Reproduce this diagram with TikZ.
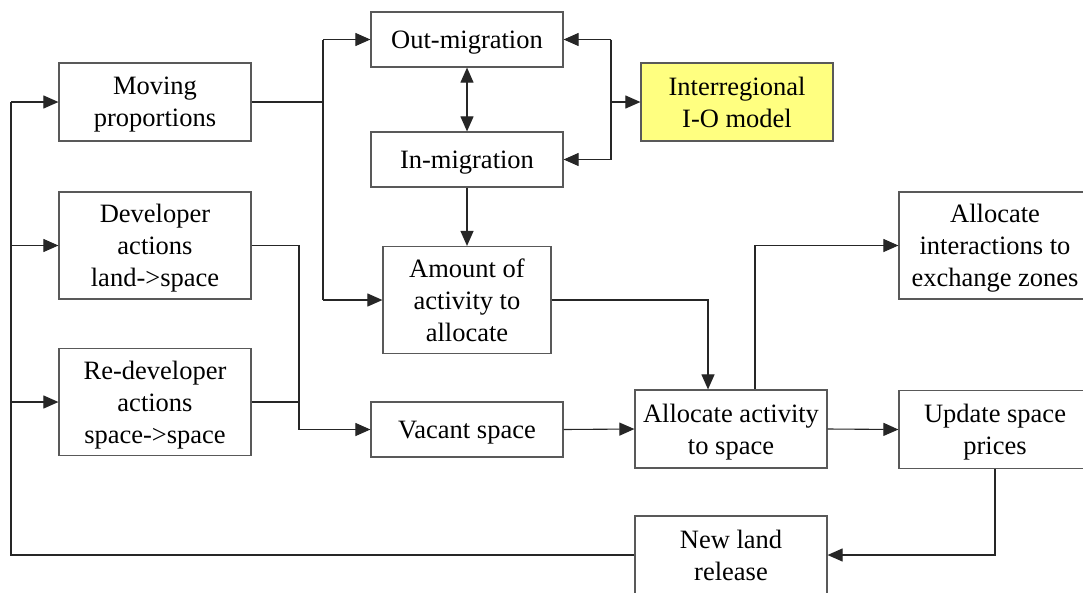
\documentclass[tikz,border=0pt]{standalone}
\usepackage{fontspec}
\setmainfont{Liberation Serif}
\usetikzlibrary{arrows.meta}
\definecolor{ioyellow}{RGB}{255,255,128}
\begin{document}
\begin{tikzpicture}[x=1pt,y=-1pt,
  box/.style={draw=black!65,line width=1.2pt,fill=white,inner sep=0pt,
    minimum width=192pt,align=center,text depth=0pt,
    font=\fontsize{26.5}{32}\selectfont},
  h55/.style={minimum height=55pt},
  h78/.style={minimum height=78pt},
  h108/.style={minimum height=107pt},
  tip/.tip={Triangle[length=15pt,width=13pt]},
  link/.style={draw=black!85,line width=1.1pt},
  arr/.style={link,-tip},
  darr/.style={link,tip-tip}]
\useasboundingbox[fill=white] (0,0) rectangle (1083,592);

% boxes
\node[box,h78]  (mov) at (155,102)   {Moving\\proportions};
\node[box,h55]  (out) at (467,39.5)  {Out-migration};
\node[box,h55]  (inm) at (467,159.5) {In-migration};
\node[box,h78,fill=ioyellow] (io) at (737,102) {Interregional\\I-O model};
\node[box,h108] (dev) at (155,245.5) {Developer\\actions\\land->space};
\node[box,h108,minimum width=168pt] (amt) at (467,300) {Amount of\\activity to\\allocate};
\node[box,h108] (ali) at (995,245.5) {Allocate\\interactions to\\exchange zones};
\node[box,h108] (red) at (155,402)   {Re-developer\\actions\\space->space};
\node[box,h55]  (vac) at (467,429.5) {Vacant space};
\node[box,h78]  (aas) at (731,429)   {Allocate activity\\to space};
\node[box,h78]  (usp) at (995,429.5) {Update space\\prices};
\node[box,h78]  (nlr) at (731,555)   {New land\\release};

% junction points
\coordinate (lx) at (11,0);
\coordinate (mx) at (323,0);
\coordinate (ix) at (611,0);
\coordinate (dx) at (299,0);

% feedback loop from new land release
\draw[link] (nlr.west) -- (nlr.west -| lx) -- (mov.west -| lx);
\draw[arr] (mov.west -| lx) -- (mov.west);
\draw[arr] (dev.west -| lx) -- (dev.west);
\draw[arr] (red.west -| lx) -- (red.west);

% moving proportions to migration and amount
\draw[link] (mov.east) -- (mov.east -| mx);
\draw[link] (out.west -| mx) -- (amt.west -| mx);
\draw[arr] (out.west -| mx) -- (out.west);
\draw[arr] (amt.west -| mx) -- (amt.west);

% migration and the I-O model
\draw[darr] (out.south) -- (inm.north);
\draw[link] (out.east -| ix) -- (inm.east -| ix);
\draw[arr] (out.east -| ix) -- (out.east);
\draw[arr] (inm.east -| ix) -- (inm.east);
\draw[arr] (io.west -| ix) -- (io.west);
\draw[arr] (inm.south) -- (amt.north);

% developers to vacant space
\draw[arr] (dev.east) -- (dev.east -| dx) -- (vac.west -| dx) -- (vac.west);
\draw[link] (red.east) -- (red.east -| dx);

% allocation
\draw[arr] (amt.east) -- ([xshift=-23pt]amt.east -| aas.north) -- ([xshift=-23pt]aas.north);
\draw[arr] (vac.east) -- (aas.west);
\draw[arr] ([xshift=24pt]aas.north) -- ([xshift=24pt]aas.north |- ali.west) -- (ali.west);
\draw[arr] (aas.east) -- (usp.west);
\draw[arr] (usp.south) -- (usp.south |- nlr.east) -- (nlr.east);
\end{tikzpicture}
\end{document}
